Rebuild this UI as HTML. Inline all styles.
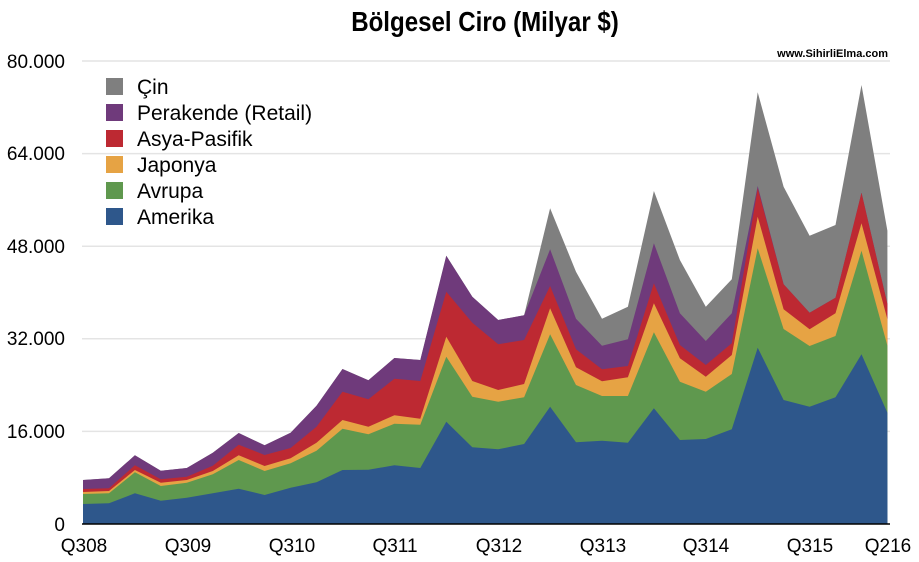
<!DOCTYPE html>
<html><head><meta charset="utf-8"><style>
body{margin:0;background:#fff;}
svg{display:block;font-family:"Liberation Sans",sans-serif;}
</style></head><body>
<svg id="s" width="919" height="562" viewBox="0 0 919 562">
<text transform="translate(485,31) scale(0.86,1)" text-anchor="middle" font-weight="bold" font-size="28" fill="#000">Bölgesel Ciro (Milyar $)</text>
<text x="888" y="57" text-anchor="end" font-weight="bold" font-size="11" fill="#000">www.SihirliElma.com</text>
<g stroke="#e4e4e4" stroke-width="1.5">
<line x1="82" x2="890" y1="61" y2="61"/><line x1="82" x2="890" y1="153.6" y2="153.6"/><line x1="82" x2="890" y1="246.2" y2="246.2"/><line x1="82" x2="890" y1="338.8" y2="338.8"/><line x1="82" x2="890" y1="431.4" y2="431.4"/>
</g>
<g id="areas"></g>
<line x1="82" x2="890" y1="524" y2="524" stroke="#000" stroke-width="1.5"/>
<g font-size="19" fill="#000" text-anchor="end">
<text x="65" y="68">80.000</text><text x="65" y="160">64.000</text><text x="65" y="253">48.000</text><text x="65" y="345">32.000</text><text x="65" y="438">16.000</text><text x="65" y="531">0</text>
</g>
<g font-size="19" fill="#000" text-anchor="middle">
<text x="84" y="552">Q308</text><text x="188" y="552">Q309</text><text x="292" y="552">Q310</text><text x="395" y="552">Q311</text><text x="499" y="552">Q312</text><text x="603" y="552">Q313</text><text x="706" y="552">Q314</text><text x="810" y="552">Q315</text><text x="888" y="552">Q216</text>
</g>
<g font-size="21" fill="#000">
<rect x="106" y="78" width="17" height="17" fill="#7f7f7f"/><text x="137" y="94">Çin</text>
<rect x="106" y="104" width="17" height="17" fill="#6f3a7b"/><text x="137" y="120">Perakende (Retail)</text>
<rect x="106" y="130" width="17" height="17" fill="#bd2932"/><text x="137" y="146">Asya-Pasifik</text>
<rect x="106" y="156" width="17" height="17" fill="#e6a344"/><text x="137" y="172">Japonya</text>
<rect x="106" y="182" width="17" height="17" fill="#5f984e"/><text x="137" y="198">Avrupa</text>
<rect x="106" y="208" width="17" height="17" fill="#2e578b"/><text x="137" y="224">Amerika</text>
</g>
</svg>
<script>
var A=[
[504,503.3,493.3,500.7,497.7,493.3,488.7,495,487.7,482.3,470,469.7,465.3,468,421.7,447.3],
[494,493.3,472.3,486,482.7,474.3,460,471,463.3,450.7,428.7,434.3,423.7,424.7,356.7,396.7],
[492,491,470,482.7,480,471,455.3,466,458.3,442.7,420,426.7,415.3,418.7,336.7,381],
[489,488.3,465.3,479.3,476.7,465.7,444.7,455,448,426.7,391.7,399.3,378.7,381,291.7,322.7],
[480,478.3,455.3,470.7,468,452.7,433,445.3,432.7,405.7,369,380.3,358,360,255.7,296.7]];
var Z=[[1108,965,930,793,720,720],[1092,952,912,780,706,706],[980,763,685,618,508,385],[1087,915,862,808,716,575],[1082,948,904,868,797,716],[1088,948,892,858,778,680],[985,757,670,610,490,333],[1080,905,835,795,700,540],[1077,935,890,855,783,680],[1048,882,825,790,700,598],[803,505,410,325,318,37],[960,747,688,613,613,320],[980,798,748,698,698,467],[952,768,700,653,653,435],[823,512,430,338,338,15],[998,797,718,672,672,452]];
var L=[[],[],[],[],[],[]];
for(var i=0;i<16;i++){for(var k=0;k<5;k++)L[k].push(A[k][i]);L[5].push(A[4][i]);}
for(var j=0;j<16;j++){for(var k=0;k<6;k++)L[k].push(80+Z[j][k]/3);}
var cols=["#2e578b","#5f984e","#e6a344","#bd2932","#6f3a7b","#7f7f7f"];
var g=document.getElementById("areas"),h="";
for(var k=5;k>=0;k--){var p="83,524 ";for(var i=0;i<32;i++){p+=(83+25.95*i).toFixed(1)+","+L[k][i].toFixed(1)+" ";}p+="887.5,524";
h+='<polygon points="'+p+'" fill="'+cols[k]+'"/>';}
g.innerHTML=h;
</script>
</body></html>
